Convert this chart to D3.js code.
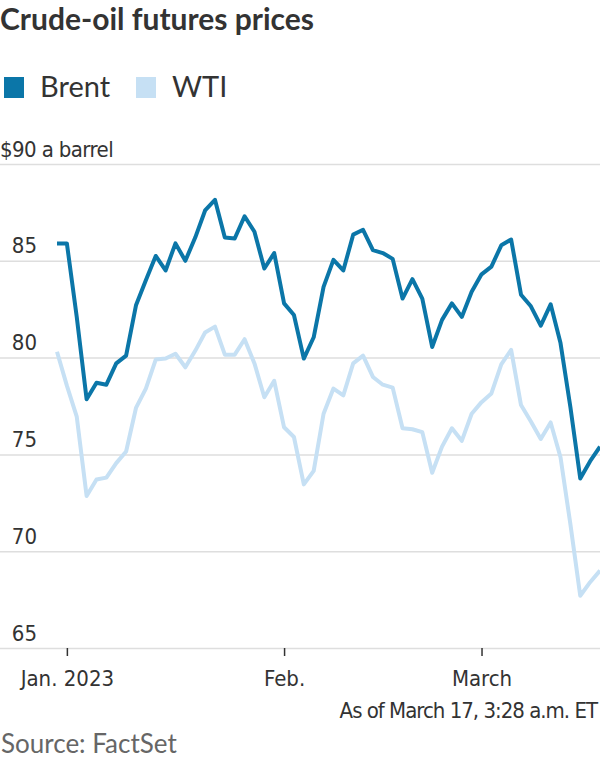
<!DOCTYPE html>
<meta charset="utf-8">
<head>
  <style>
    body { margin: 0; background: #fff; }
    .title { font-family: Lato, sans-serif; font-weight: bold; font-size: 30px; fill: #333; }
    .legend { font-family: Lato, sans-serif; font-size: 29px; fill: #333; }
    .axis text { font-family: "Liberation Sans Narrow", "DejaVu Sans Condensed", sans-serif; font-size: 22px; fill: #333; }
    .note { font-family: "Liberation Sans Narrow", "DejaVu Sans Condensed", sans-serif; font-size: 22px; fill: #333; letter-spacing: -1px; }
    .source { font-family: Lato, sans-serif; font-size: 26px; fill: #666; }
  </style>
  <title></title>
</head>
<body>

<div id="my_dataviz"></div>

<script src="https://d3js.org/d3.v7.min.js"></script>
<script>

// trading days (weekday closes)
var dates = [
  "2022-12-30",
  "2023-01-02","2023-01-03","2023-01-04","2023-01-05","2023-01-06",
  "2023-01-09","2023-01-10","2023-01-11","2023-01-12","2023-01-13",
  "2023-01-16","2023-01-17","2023-01-18","2023-01-19","2023-01-20",
  "2023-01-23","2023-01-24","2023-01-25","2023-01-26","2023-01-27",
  "2023-01-30","2023-01-31",
  "2023-02-01","2023-02-02","2023-02-03",
  "2023-02-06","2023-02-07","2023-02-08","2023-02-09","2023-02-10",
  "2023-02-13","2023-02-14","2023-02-15","2023-02-16","2023-02-17",
  "2023-02-20","2023-02-21","2023-02-22","2023-02-23","2023-02-24",
  "2023-02-27","2023-02-28",
  "2023-03-01","2023-03-02","2023-03-03",
  "2023-03-06","2023-03-07","2023-03-08","2023-03-09","2023-03-10",
  "2023-03-13","2023-03-14","2023-03-15","2023-03-16","2023-03-17"
];

var brent = [
  85.9,
  85.9, 82.1, 77.85, 78.7, 78.6,
  79.7, 80.1, 82.7, 84.0, 85.25,
  84.5, 85.9, 85.0, 86.2, 87.6,
  88.15, 86.2, 86.15, 87.3, 86.5,
  84.6, 85.4,
  82.8, 82.2, 79.95,
  81.05, 83.65, 85.05, 84.5, 86.35,
  86.6, 85.55, 85.4, 85.1, 83.05,
  84.05, 83.05, 80.55, 81.95, 82.8,
  82.1, 83.4,
  84.3, 84.7, 85.8,
  86.1, 83.25, 82.65, 81.65, 82.75,
  80.75, 77.45, 73.75, 74.65, 75.4
];

var wti = [
  80.3,
  78.55, 76.95, 72.85, 73.7, 73.8,
  74.55, 75.15, 77.4, 78.4, 79.9,
  79.95, 80.2, 79.5, 80.35, 81.3,
  81.6, 80.15, 80.15, 80.95, 79.7,
  77.95, 78.8,
  76.4, 75.9, 73.45,
  74.15, 77.1, 78.4, 78.05, 79.7,
  80.1, 79.0, 78.6, 78.45, 76.35,
  76.3, 76.15, 74.05, 75.4, 76.35,
  75.7, 77.1,
  77.7, 78.15, 79.65,
  80.4, 77.55, 76.7, 75.8, 76.65,
  74.85, 71.4, 67.7, 68.4, 69.0
];

var seriesNames = ["Brent", "WTI"];
var seriesColors = ["#0b76a8", "#c6e0f4"];

var yTicks = [65, 70, 75, 80, 85, 90];
var xTicks = ["2023-01-02", "2023-02-01", "2023-03-01"];
var xTickLabels = ["Jan. 2023", "Feb.", "March"];

var width = 600, height = 760;

var svg = d3.select("#my_dataviz")
  .append("svg")
    .attr("width", width)
    .attr("height", height);

// title
svg.append("text")
  .attr("class", "title")
  .attr("x", 0)
  .attr("y", 30)
  .text("Crude-oil futures prices");

// legend
var legend = svg.append("g");
var legendX = [4, 136];
seriesNames.forEach(function(name, i) {
  legend.append("rect")
    .attr("x", legendX[i])
    .attr("y", 77)
    .attr("width", 20)
    .attr("height", 21)
    .attr("fill", seriesColors[i]);
  legend.append("text")
    .attr("class", "legend")
    .attr("x", legendX[i] + 36)
    .attr("y", 97)
    .text(name);
});

// scales
var x = d3.scalePoint()
  .domain(dates)
  .range([57, 600]);

var y = d3.scaleLinear()
  .domain([65, 90])
  .range([648, 164]);

// y axis / gridlines
var yAxis = svg.append("g")
  .attr("class", "axis")
  .call(d3.axisLeft(y)
    .tickValues(yTicks)
    .tickSize(-width)
    .tickFormat(function(d) { return d === 90 ? "$90 a barrel" : d; }));
yAxis.select(".domain").remove();
yAxis.selectAll(".tick line")
  .attr("stroke", "#dedede")
  .attr("stroke-width", 1.5);
yAxis.selectAll(".tick text")
  .attr("x", 37)
  .attr("dy", 0)
  .attr("y", -8)
  .style("text-anchor", "end")
  .filter(function(d) { return d === 90; })
    .attr("x", 0)
    .style("letter-spacing", "-0.6px")
    .style("text-anchor", "start");

// x axis
var xAxis = svg.append("g")
  .attr("class", "axis")
  .attr("transform", "translate(0," + y(65) + ")")
  .call(d3.axisBottom(x)
    .tickValues(xTicks)
    .tickSize(8)
    .tickFormat(function(d, i) { return xTickLabels[i]; }));
xAxis.select(".domain").remove();
xAxis.selectAll(".tick line")
  .attr("stroke", "#333")
  .attr("stroke-width", 1.5);
xAxis.selectAll(".tick text")
  .attr("y", 38)
  .attr("dy", 0);

// lines (WTI underneath, Brent on top)
var line = d3.line()
  .x(function(d, i) { return x(dates[i]); })
  .y(function(d) { return y(d); });

svg.append("path")
  .datum(wti)
  .attr("d", line)
  .attr("fill", "none")
  .attr("stroke", seriesColors[1])
  .attr("stroke-width", 4)
  .attr("stroke-linejoin", "round");

svg.append("path")
  .datum(brent)
  .attr("d", line)
  .attr("fill", "none")
  .attr("stroke", seriesColors[0])
  .attr("stroke-width", 4)
  .attr("stroke-linejoin", "round");

// notes
svg.append("text")
  .attr("class", "note")
  .attr("x", 597)
  .attr("y", 718)
  .style("text-anchor", "end")
  .text("As of March 17, 3:28 a.m. ET");

svg.append("text")
  .attr("class", "source")
  .attr("x", 1)
  .attr("y", 753)
  .text("Source: FactSet");

</script>
</body>
